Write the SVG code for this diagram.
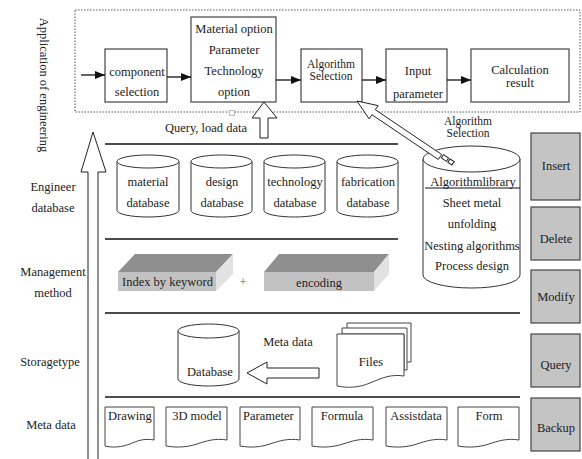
<svg xmlns="http://www.w3.org/2000/svg" width="582" height="459" viewBox="0 0 582 459" font-family="'Liberation Serif', 'DejaVu Serif', serif">
<style>
text{font-family:'Liberation Serif','DejaVu Serif',serif;font-size:12.5px;fill:#222;}
.c{text-anchor:middle;}
.s{font-size:11.5px;}
.box{fill:#fff;stroke:#444;stroke-width:1.2;}
.cyl{fill:#fff;stroke:#333;stroke-width:1;}
.gbox{fill:#c4c4c4;stroke:#444;stroke-width:1.2;}
.ln{stroke:#111;stroke-width:1.3;fill:none;}
.hol{fill:#fff;stroke:#222;stroke-width:1;}
.doc{fill:#fff;stroke:#444;stroke-width:1;}
.fl{stroke:#111;stroke-width:1.3;fill:none;marker-end:url(#ah);}
</style>
<defs>
<marker id="ah" markerWidth="10" markerHeight="8" refX="10" refY="4" orient="auto" markerUnits="userSpaceOnUse">
<path d="M0,0 L10,4 L0,8 Z" fill="#111"/>
</marker>
</defs>
<rect width="582" height="459" fill="#fff"/>

<!-- left labels -->
<g id="labels">
<text class="c" transform="translate(40,85) rotate(90)">Application of engineering</text>
<text class="c" x="53" y="191">Engineer</text>
<text class="c" x="53" y="212">database</text>
<text class="c" x="53" y="276">Management</text>
<text class="c" x="53" y="297">method</text>
<text class="c" x="50" y="366">Storagetype</text>
<text class="c" x="51" y="429">Meta data</text>
</g>

<!-- layer separators -->
<g id="separators">
<rect x="75" y="10" width="505" height="102" fill="none" stroke="#555" stroke-width="1" stroke-dasharray="1.5,1.5"/>
<line class="ln" x1="105" y1="144" x2="398" y2="144"/>
<line class="ln" x1="105" y1="239" x2="398" y2="239"/>
<line class="ln" x1="105" y1="313" x2="520" y2="313"/>
<line class="ln" x1="105" y1="397" x2="520" y2="397"/>
</g>

<!-- application row -->
<g id="component">
<rect class="box" x="105" y="49" width="62" height="53"/>
<text class="c" x="137" y="76">component</text>
<text class="c" x="137" y="96">selection</text>
</g>
<g id="material-option">
<rect class="box" x="191" y="17" width="85" height="85"/>
<text class="c" x="234" y="33">Material option</text>
<text class="c" x="234" y="54">Parameter</text>
<text class="c" x="234" y="75">Technology</text>
<text class="c" x="234" y="96">option</text>
</g>
<g id="algorithm-selection">
<rect class="box" x="301" y="49" width="61" height="53"/>
<text class="c s" x="331" y="68">Algorithm</text>
<text class="c s" x="331" y="80">Selection</text>
</g>
<g id="input-parameter">
<rect class="box" x="386" y="49" width="61" height="53"/>
<text class="c" x="418" y="75">Input</text>
<text class="c" x="418" y="98">parameter</text>
</g>
<g id="calculation-result">
<rect class="box" x="471" y="49" width="98" height="53"/>
<text class="c" x="520" y="74">Calculation</text>
<text class="c" x="520" y="87">result</text>
</g>
<rect x="229.5" y="110.5" width="5" height="5" fill="#fff" stroke="#bbb" stroke-width="1"/>

<!-- engineer databases -->
<g id="material-db">
<path class="cyl" d="M117 161.5 V210.5 A31 6.5 0 0 0 179 210.5 V161.5"/>
<ellipse class="cyl" cx="148" cy="161.5" rx="31" ry="6.5"/>
<text class="c" x="148" y="186">material</text>
<text class="c" x="148" y="207">database</text>
</g>
<g id="design-db">
<path class="cyl" d="M191 161.5 V210.5 A30.5 6.5 0 0 0 252 210.5 V161.5"/>
<ellipse class="cyl" cx="221.5" cy="161.5" rx="30.5" ry="6.5"/>
<text class="c" x="222" y="186">design</text>
<text class="c" x="222" y="207">database</text>
</g>
<g id="technology-db">
<path class="cyl" d="M264 161.5 V210.5 A30.5 6.5 0 0 0 325 210.5 V161.5"/>
<ellipse class="cyl" cx="294.5" cy="161.5" rx="30.5" ry="6.5"/>
<text class="c" x="295" y="186">technology</text>
<text class="c" x="295" y="207">database</text>
</g>
<g id="fabrication-db">
<path class="cyl" d="M337 161.5 V210.5 A30.5 6.5 0 0 0 398 210.5 V161.5"/>
<ellipse class="cyl" cx="367.5" cy="161.5" rx="30.5" ry="6.5"/>
<text class="c" x="368" y="186">fabrication</text>
<text class="c" x="368" y="207">database</text>
</g>

<!-- algorithm library -->
<g id="algorithm-library">
<path class="cyl" d="M423 159 V275 A48.5 13 0 0 0 520 275 V159"/>
<ellipse class="cyl" cx="471.5" cy="159" rx="48.5" ry="13"/>
<text class="c" x="473" y="186">Algorithmlibrary</text>
<line x1="425" y1="188" x2="520" y2="188" stroke="#111" stroke-width="1.2"/>
<text class="c" x="472" y="207">Sheet metal</text>
<text class="c" x="472" y="228">unfolding</text>
<text class="c" x="472" y="250">Nesting algorithms</text>
<text class="c" x="472" y="270">Process design</text>
</g>

<!-- management method -->
<g id="index-keyword">
<polygon points="118,272 135,254 233,254 216,272" fill="#8f8f8f"/>
<polygon points="216,272 233,254 233,274 216,291" fill="#e2e2e2"/>
<rect x="118" y="272" width="98" height="19" fill="#c2c2c2"/>
<text x="122" y="286">Index by keyword</text>
</g>
<text class="c" x="243" y="286" style="fill:#666">+</text>
<g id="encoding">
<polygon points="264,272 279,254 389,254 374,272" fill="#8f8f8f"/>
<polygon points="374,272 389,254 389,274 374,291" fill="#e2e2e2"/>
<rect x="264" y="272" width="110" height="19" fill="#c2c2c2"/>
<text class="c" x="319" y="287">encoding</text>
</g>

<!-- storage type -->
<g id="database">
<path class="cyl" d="M178 331 V379 A30.5 7 0 0 0 239 379 V331"/>
<ellipse class="cyl" cx="208.5" cy="331" rx="30.5" ry="7"/>
<text class="c" x="210" y="376">Database</text>
</g>
<text class="c" x="288" y="346">Meta data</text>
<g id="files">
<path class="doc" d="M347 323 H411 V362 L406 362 V329 H347 Z"/>
<path class="doc" d="M342 328 H407 V370 L404 370 V334 H342 Z"/>
<path class="doc" d="M337 334 H404 V376 C390 374 382 378 370 383 C358 388 347 388 337 386 Z"/>
<text class="c" x="371" y="366">Files</text>
</g>

<!-- meta data docs -->
<g id="drawing">
<path class="doc" d="M105 407 H154 V440 C144 438 137 441 130 444 C122 447 113 448 105 446 Z"/>
<text x="108" y="420">Drawing</text>
</g>
<g id="model3d">
<path class="doc" d="M166 407 H227 V440 C215 438 206 441 197 444 C188 447 177 448 166 446 Z"/>
<text class="c" x="197" y="420">3D model</text>
</g>
<g id="parameter">
<path class="doc" d="M240 407 H300 V440 C288 438 279 441 270 444 C261 447 251 448 240 446 Z"/>
<text x="243" y="420">Parameter</text>
</g>
<g id="formula">
<path class="doc" d="M312 407 H373 V440 C361 438 352 441 343 444 C334 447 323 448 312 446 Z"/>
<text class="c" x="342" y="420">Formula</text>
</g>
<g id="assistdata">
<path class="doc" d="M386 407 H447 V440 C435 438 426 441 417 444 C408 447 397 448 386 446 Z"/>
<text class="c" x="416" y="420">Assistdata</text>
</g>
<g id="form">
<path class="doc" d="M458 407 H519 V440 C507 438 498 441 489 444 C480 447 469 448 458 446 Z"/>
<text class="c" x="489" y="420">Form</text>
</g>

<!-- operations -->
<g id="insert"><rect class="gbox" x="531" y="133" width="49" height="67"/><text class="c" x="556" y="170">Insert</text></g>
<g id="delete"><rect class="gbox" x="531" y="207" width="49" height="53"/><text class="c" x="556" y="243">Delete</text></g>
<g id="modify"><rect class="gbox" x="531" y="270" width="49" height="53"/><text class="c" x="556" y="301">Modify</text></g>
<g id="query"><rect class="gbox" x="531" y="334" width="49" height="53"/><text class="c" x="556" y="369">Query</text></g>
<g id="backup"><rect class="gbox" x="531" y="398" width="49" height="53"/><text class="c" x="556" y="432">Backup</text></g>

<!-- connectors -->
<g id="connectors">
<line class="fl" x1="81" y1="75" x2="105" y2="75"/>
<line class="fl" x1="167" y1="77" x2="191" y2="77"/>
<line class="fl" x1="276" y1="80" x2="301" y2="80"/>
<line class="fl" x1="362" y1="80" x2="386" y2="80"/>
<line class="fl" x1="447" y1="80" x2="471" y2="80"/>
<path class="hol" d="M88 459 V172 H81 L93 132 L106 172 H98 V459"/>
<path class="hol" d="M260 138 V118 H252 L264 102 L277 118 H268 V138 Z"/>
<text class="c" x="206" y="132">Query, load data</text>
<polygon class="hol" points="357,101 378.1,105.6 375.3,109.7 441.7,154.5 438.3,159.5 371.9,114.7 369.1,118.8"/>
<rect class="hol" x="-3" y="-2" width="6" height="4" transform="translate(445,158) rotate(34)"/>
<rect class="hol" x="-2.5" y="-2" width="5" height="4" transform="translate(451,162) rotate(34)"/>
<text class="c s" x="468" y="125">Algorithm</text>
<text class="c s" x="468" y="137">Selection</text>
<path class="hol" d="M319 368 H267 V362 L247 373 L267 384 V378 H319 Z"/>
</g>
</svg>
